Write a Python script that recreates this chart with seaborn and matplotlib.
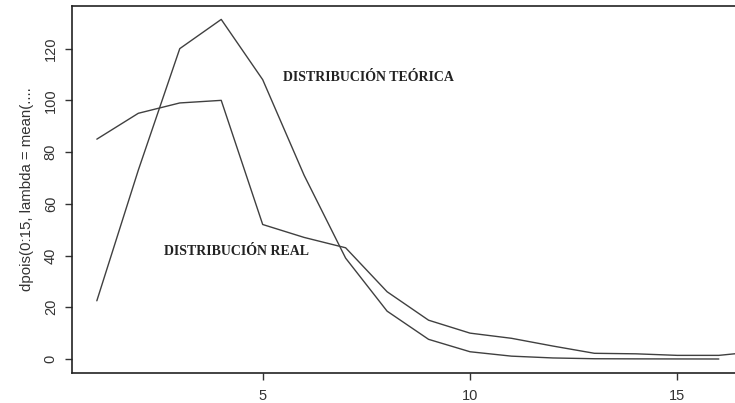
import numpy as np
import pandas as pd
import matplotlib
matplotlib.use("Agg")
import matplotlib.pyplot as plt
import seaborn as sns

# data
x_teorica = list(range(1, 17))
y_teorica = [22.5, 73, 120, 131.3, 108, 71, 39, 18.5, 7.6, 2.8, 1.1, 0.4, 0.1, 0.05, 0.02, 0.0]
x_real = list(range(1, 18))
y_real = [85, 95, 99, 100, 52, 47, 43, 26, 15, 10, 8, 5, 2.2, 2, 1.4, 1.4, 3.0]
label_teorica = "DISTRIBUCIÓN TEÓRICA"
label_real = "DISTRIBUCIÓN REAL"
y_label = "dpois(0:15, lambda = mean(...."
x_ticks = [5, 10, 15]
y_ticks = [0, 20, 40, 60, 80, 100, 120]

sns.set_style("white")
plt.rcParams['font.family'] = ['Liberation Sans', 'DejaVu Sans']

df_t = pd.DataFrame({"x": x_teorica, "y": y_teorica})
df_r = pd.DataFrame({"x": x_real, "y": y_real})

fig = plt.figure(figsize=(7.35, 4.03), dpi=100)
ax = fig.add_axes([71.7 / 735, 1 - 372.7 / 403, 1 - 71.7 / 735, (372.7 - 5.7) / 403])

line_color = "#404040"
sns.lineplot(data=df_t, x="x", y="y", ax=ax, color=line_color, linewidth=1.0)
sns.lineplot(data=df_r, x="x", y="y", ax=ax, color=line_color, linewidth=1.0)

ax.set_xlim(0.394, 16.39)
ax.set_ylim(-5.3, 136.6)
ax.set_xticks(x_ticks)
ax.set_yticks(y_ticks)
ax.set_xticklabels([str(v) for v in x_ticks])
ax.set_yticklabels([str(v) for v in y_ticks], rotation=90, va="center")
ax.set_xlabel("")
ax.set_ylabel(y_label, fontsize=10.8, color="#333333", labelpad=7)

ax.tick_params(axis="both", direction="out", length=5, width=1, color="#333333",
               labelsize=10.5, labelcolor="#333333", left=True, bottom=True)
ax.tick_params(axis="x", pad=7)
ax.tick_params(axis="y", pad=5)

for side in ["left", "bottom", "top"]:
    ax.spines[side].set_visible(True)
    ax.spines[side].set_color("#222222")
    ax.spines[side].set_linewidth(1.2)
ax.spines["right"].set_visible(False)

ax.text(7.56, 108.7, label_teorica, family=["Liberation Serif", "DejaVu Serif"],
        fontweight="bold", fontsize=10, ha="center", va="center", color="#222222")
ax.text(4.37, 41.4, label_real, family=["Liberation Serif", "DejaVu Serif"],
        fontweight="bold", fontsize=10, ha="center", va="center", color="#222222")

fig.savefig("out.png", dpi=100)
